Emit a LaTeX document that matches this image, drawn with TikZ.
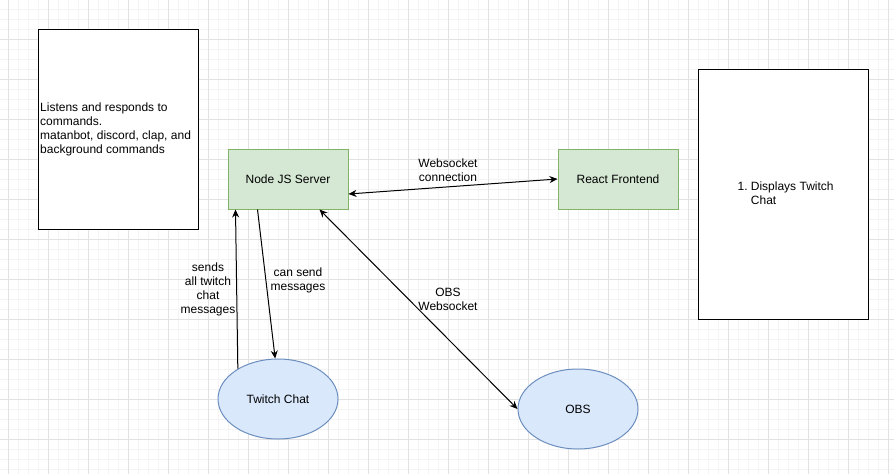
\documentclass[tikz,border=0pt]{standalone}
\usepackage{fontspec}
\setmainfont{Liberation Sans}
\usetikzlibrary{arrows.meta,shapes.geometric,calc}
\definecolor{gfill}{HTML}{D5E8D4}
\definecolor{gdraw}{HTML}{82B366}
\definecolor{bfill}{HTML}{DAE8FC}
\definecolor{bdraw}{HTML}{6C8EBF}
\definecolor{gridmaj}{HTML}{E2E2E2}
\definecolor{gridmin}{HTML}{F4F4F4}
\tikzset{
  txt/.style={font=\fontsize{12}{14}\selectfont, align=center, inner sep=0pt},
  greenbox/.style={draw=gdraw, fill=gfill, line width=1pt, minimum width=120pt, minimum height=60pt, inner sep=0pt, font=\fontsize{12}{14}\selectfont},
  bluebubble/.style={ellipse, draw=bdraw, fill=bfill, line width=1pt, minimum width=120pt, minimum height=80pt, inner sep=0pt, font=\fontsize{12}{14}\selectfont},
  notebox/.style={draw=black, fill=white, line width=1pt, inner sep=0pt},
  conn/.style={line width=1pt, -{Stealth[length=8pt,width=7pt]}},
  biconn/.style={line width=1pt, {Stealth[length=8pt,width=7pt]}-{Stealth[length=8pt,width=7pt]}}
}
\begin{document}
\begin{tikzpicture}[x=1pt,y=-1pt]
\useasboundingbox (0,0) rectangle (894,474);
\fill[white] (0,0) rectangle (894,474);
% grid
\foreach \i in {0,...,89} { \draw[gridmin, line width=0.8pt] ({8+10*\i},0) -- ({8+10*\i},474); }
\foreach \j in {0,...,47} { \draw[gridmin, line width=0.8pt] (0,{9+10*\j}) -- (894,{9+10*\j}); }
\foreach \i in {0,...,22} { \draw[gridmaj, line width=0.8pt] ({8+40*\i},0) -- ({8+40*\i},474); }
\foreach \j in {0,...,11} { \draw[gridmaj, line width=0.8pt] (0,{39+40*\j}) -- (894,{39+40*\j}); }

% note boxes
\draw[notebox] (38,29) rectangle (198,229);
\node[txt, align=left, anchor=west] (lefttext) at (40,129.7) {Listens and responds to\\commands.\\matanbot, discord, clap, and\\background commands};
\draw[notebox] (698,69) rectangle (868,319);
\node[txt, anchor=west] (righttext) at (737.5,194.7) {\begin{tabular}{@{}l@{\hspace{3.2pt}}l@{}}1.&Displays Twitch\\&Chat\end{tabular}};

% main nodes
\node[greenbox] (ns) at (288,179) {Node JS Server};
\node[greenbox] (rf) at (618,179) {React Frontend};
\node[bluebubble] (tc) at (278,399) {Twitch Chat};
\node[bluebubble] (obs) at (578,409) {OBS};

% connectors
\draw[biconn] ($(ns.east)+(0,15)$) -- (rf.west);
\draw[conn] (tc.143) -- ($(ns.south west)+(8,0)$);
\draw[conn] ($(ns.south west)+(30,0)$) -- (tc.94);
\draw[biconn] ($(ns.south west)+(92,0)$) -- (obs.west);

% labels
\node[txt] (lws) at (448,170) {Websocket\\connection};
\node[txt] (lsends) at (208,289.5) {sends\\all twitch\\chat\\messages};
\node[txt] (lcan) at (298,280) {can send\\messages};
\node[txt] (lobs) at (448,299.5) {OBS\\Websocket};
\end{tikzpicture}
\end{document}
